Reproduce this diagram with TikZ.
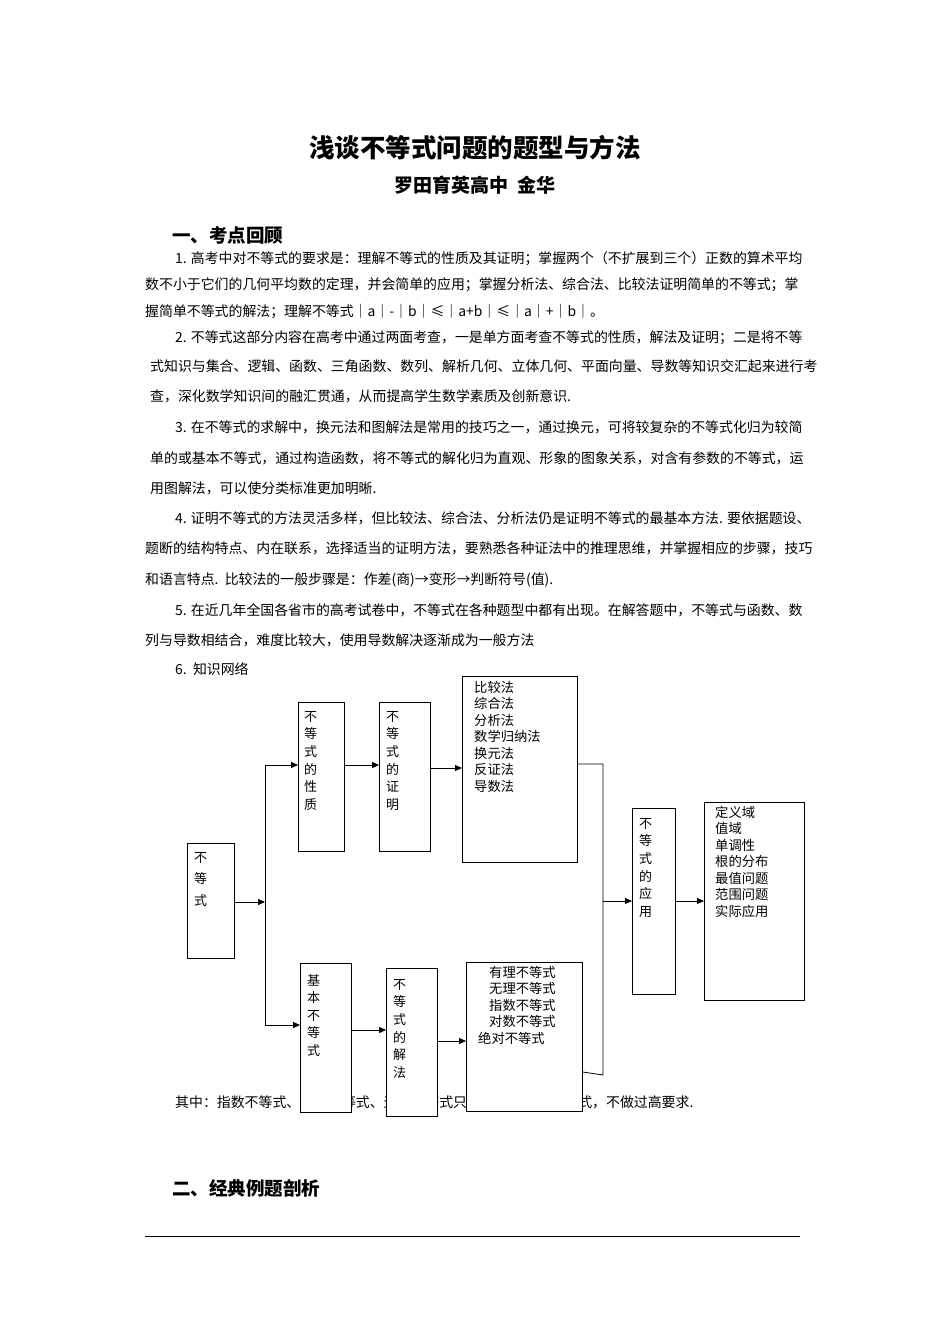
\documentclass[tikz,border=0pt]{standalone}
\usepackage{fontspec}
\setmainfont{Liberation Serif}
\newfontfamily\cjk{Noto Sans CJK SC}
\usetikzlibrary{arrows.meta}
\begin{document}
\begin{tikzpicture}[x=1pt,y=-1pt,
  txt/.style={anchor=base west,inner sep=0,font=\cjk\fontsize{13.9}{15}\selectfont},
  hd/.style={anchor=base west,inner sep=0,font=\cjk\bfseries\fontsize{18.5}{20}\selectfont},
  bx/.style={draw,fill=white,line width=0.8pt,minimum width=0},
  vt/.style={anchor=north west,inner sep=0,align=left,font=\cjk\fontsize{13}{17.6}\selectfont},
  lst/.style={anchor=north west,inner sep=0,align=left,font=\cjk\fontsize{13.3}{16.5}\selectfont},
  arr/.style={-{Triangle[length=7pt,width=6pt]},line width=0.8pt},
  ln/.style={line width=0.8pt}]
\useasboundingbox (0,0) rectangle (950,1344);
\node[anchor=base,font=\cjk\bfseries\fontsize{25.5}{28}\selectfont] (title) at (475,157) {浅谈不等式问题的题型与方法};
\node[anchor=base,font=\cjk\bfseries\fontsize{19}{21}\selectfont] (sub) at (475,192) {罗田育英高中\ \ 金华};
\node[hd] (s1) at (172,242) {一、考点回顾};
\node[txt] (p1) at (175,263) {1. 高考中对不等式的要求是：理解不等式的性质及其证明；掌握两个（不扩展到三个）正数的算术平均};
\node[txt] (p2) at (145,289) {数不小于它们的几何平均数的定理，并会简单的应用；掌握分析法、综合法、比较法证明简单的不等式；掌};
\node[txt] (p3) at (145,316) {握简单不等式的解法；理解不等式｜a｜-｜b｜≤｜a+b｜≤｜a｜+｜b｜。};
\node[txt] (p4) at (175,342) {2. 不等式这部分内容在高考中通过两面考查，一是单方面考查不等式的性质，解法及证明；二是将不等};
\node[txt] (p5) at (150,371) {式知识与集合、逻辑、函数、三角函数、数列、解析几何、立体几何、平面向量、导数等知识交汇起来进行考};
\node[txt] (p6) at (150,401) {查，深化数学知识间的融汇贯通，从而提高学生数学素质及创新意识.};
\node[txt] (p7) at (175,432) {3. 在不等式的求解中，换元法和图解法是常用的技巧之一，通过换元，可将较复杂的不等式化归为较简};
\node[txt] (p8) at (150,463) {单的或基本不等式，通过构造函数，将不等式的解化归为直观、形象的图象关系，对含有参数的不等式，运};
\node[txt] (p9) at (150,493) {用图解法，可以使分类标准更加明晰.};
\node[txt] (p10) at (175,523) {4. 证明不等式的方法灵活多样，但比较法、综合法、分析法仍是证明不等式的最基本方法. 要依据题设、};
\node[txt] (p11) at (145,553) {题断的结构特点、内在联系，选择适当的证明方法，要熟悉各种证法中的推理思维，并掌握相应的步骤，技巧};
\node[txt] (p12) at (145,584) {和语言特点.\ \ 比较法的一般步骤是：作差(商)→变形→判断符号(值).};
\node[txt] (p13) at (175,615) {5. 在近几年全国各省市的高考试卷中，不等式在各种题型中都有出现。在解答题中，不等式与函数、数};
\node[txt] (p14) at (145,645) {列与导数相结合，难度比较大，使用导数解决逐渐成为一般方法};
\node[txt] (p15) at (175,674) {6.\ \ 知识网络};
\node[txt] (cap) at (175,1107) {其中：指数不等式、对数不等式、无理不等式只要求掌握简单的形式，不做过高要求.};
\node[hd] (s2) at (172,1195) {二、经典例题剖析};
\draw[line width=0.8pt] (145,1236) coordinate (la) -- (800,1236) coordinate (lb);
% boxes
\node[bx,minimum width=47,minimum height=115,anchor=north west] (b0) at (187,843) {};
\node[vt,font=\cjk\fontsize{13}{21.5}\selectfont] at (194,852) {不\\等\\式};
\node[bx,minimum width=46,minimum height=149,anchor=north west] (b1) at (298,702) {};
\node[vt] at (304,711) {不\\等\\式\\的\\性\\质};
\node[bx,minimum width=51,minimum height=149,anchor=north west] (b2) at (379,702) {};
\node[vt] at (386,711) {不\\等\\式\\的\\证\\明};
\node[bx,minimum width=115,minimum height=186,anchor=north west] (b3) at (462,676) {};
\node[lst] at (474,681) {比较法\\综合法\\分析法\\数学归纳法\\换元法\\反证法\\导数法};
\node[bx,minimum width=51,minimum height=149,anchor=north west] (b4) at (300,963) {};
\node[vt] at (307,974) {基\\本\\不\\等\\式};
\node[bx,minimum width=51,minimum height=148,anchor=north west] (b5) at (386,968) {};
\node[vt] at (393,979) {不\\等\\式\\的\\解\\法};
\node[bx,minimum width=116,minimum height=149,anchor=north west] (b6) at (466,962) {};
\node[lst] at (478,966) {\hspace{11pt}有理不等式\\\hspace{11pt}无理不等式\\\hspace{11pt}指数不等式\\\hspace{11pt}对数不等式\\绝对不等式};
\node[bx,minimum width=43,minimum height=186,anchor=north west] (b7) at (632,808) {};
\node[vt] at (639,818) {不\\等\\式\\的\\应\\用};
\node[bx,minimum width=100,minimum height=198,anchor=north west] (b8) at (704,802) {};
\node[lst] at (715,806) {定义域\\值域\\单调性\\根的分布\\最值问题\\范围问题\\实际应用};
% connectors
\coordinate (j) at (265,902);
\draw[arr] (b0.east |- j) -- (j);
\draw[ln] (265,765) -- (265,1025);
\draw[arr] (265,765) -- (b1.west |- 0,765);
\draw[arr] (265,1025) -- (b4.west |- 0,1025);
\draw[arr] (b1.east |- 0,765) -- (b2.west |- 0,765);
\draw[arr] (b2.east |- 0,768) -- (b3.west |- 0,768);
\draw[arr] (b4.east |- 0,1030) -- (b5.west |- 0,1030);
\draw[arr] (b5.east |- 0,1041) -- (b6.west |- 0,1041);
\draw[ln] (b3.east |- 0,764) -- (603,764) -- (603,1075) -- (b6.east |- 0,1072);
\draw[arr] (603,901) -- (b7.west |- 0,901);
\draw[arr] (b7.east |- 0,901) -- (b8.west |- 0,901);
\end{tikzpicture}
\end{document}
